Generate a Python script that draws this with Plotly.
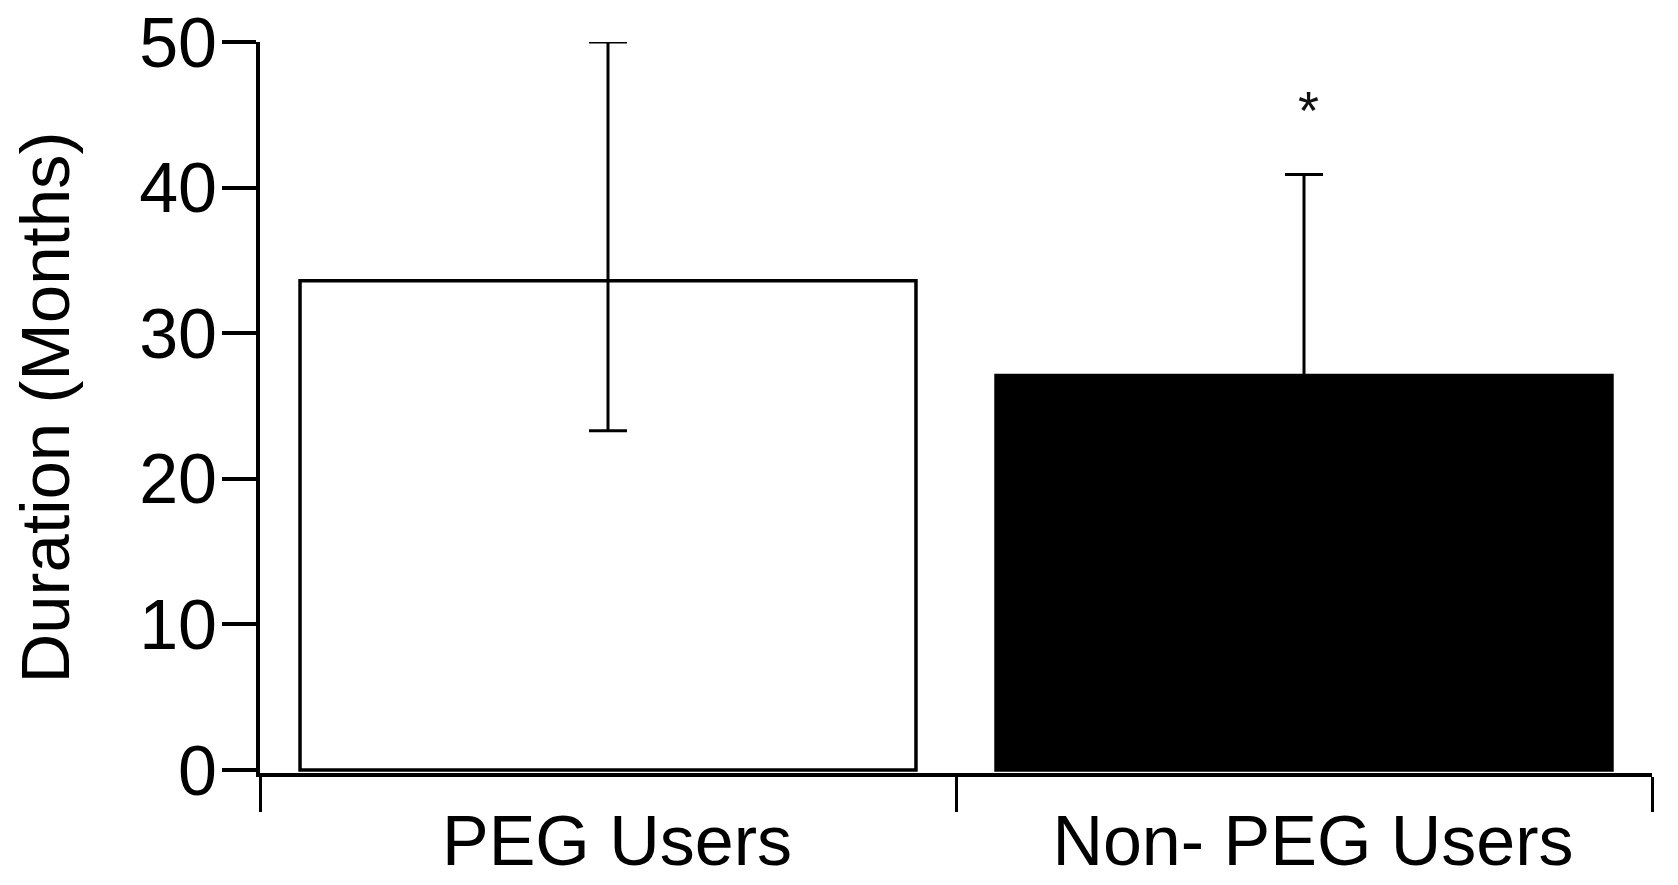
import plotly.graph_objects as go

categories = ["PEG Users", "Non- PEG Users"]
means = [33.6, 27.1]
err_plus = [16.4, 13.8]
err_minus = [10.3, 0.0]
bar_fills = ["white", "black"]
y_ticks = [0, 10, 20, 30, 40, 50]
sig_marker = "*"
sig_category = "Non- PEG Users"
sig_y = 45.9

FONT = "Liberation Sans, Arial, sans-serif"

fig = go.Figure(go.Bar(
    x=categories, y=means, width=0.885,
    marker=dict(color=bar_fills, line=dict(color="black", width=3.5)),
    error_y=dict(type="data", symmetric=False, array=err_plus, arrayminus=err_minus,
                 color="black", thickness=3, width=19),
    hoverinfo="skip",
))
fig.add_annotation(x=sig_category, y=sig_y, text=sig_marker, showarrow=False,
                   font=dict(family=FONT, size=54, color="#111"), yanchor="middle",
                   xshift=4, yshift=-8)
fig.update_layout(width=1678, height=885, margin=dict(l=260, r=26, t=42, b=112),
                  plot_bgcolor="white", paper_bgcolor="white", showlegend=False)
fig.update_xaxes(type="category", range=[-0.5, 1.5], showline=True, linecolor="black", linewidth=4,
                 ticks="outside", tickson="boundaries", ticklen=35, tickwidth=3, tickcolor="black",
                 tickfont=dict(family=FONT, size=70, color="black"), showgrid=False, zeroline=False,
                 ticklabelshift=9, ticklabelstandoff=4,
                 automargin=False)
fig.update_yaxes(range=[-0.2, 50], tickvals=y_ticks, showline=True, linecolor="black", linewidth=4,
                 ticks="outside", ticklen=34, tickwidth=4, tickcolor="black",
                 tickfont=dict(family=FONT, size=70, color="black"), showgrid=False, zeroline=False,
                 ticklabelstandoff=-9,
                 automargin=False,
                 title=dict(text="Duration (Months)", standoff=48,
                            font=dict(family=FONT, size=69, color="black")))
fig.write_html("out.html", config={"displayModeBar": False},
               post_script="document.body.style.margin='0';")
